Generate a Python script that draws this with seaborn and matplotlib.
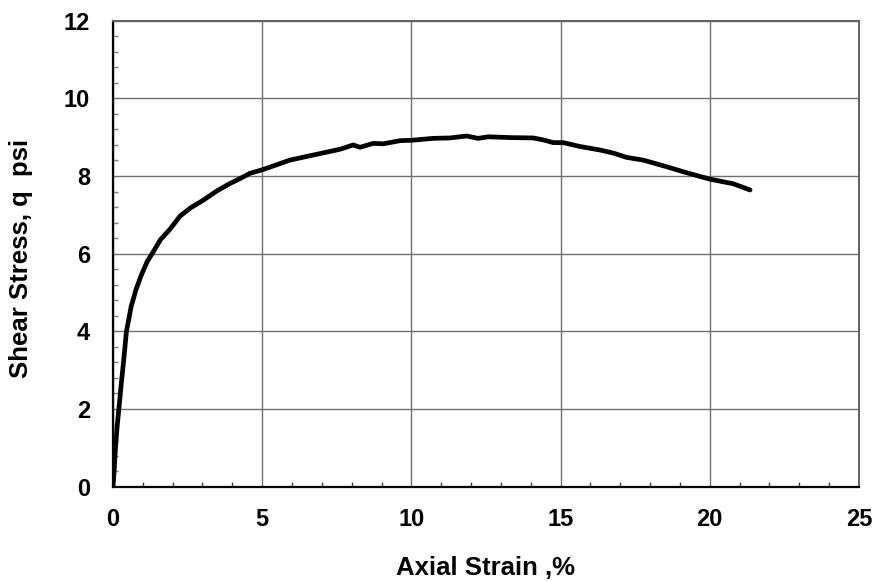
import matplotlib
matplotlib.use("Agg")
import matplotlib.pyplot as plt
from matplotlib.ticker import MultipleLocator
import seaborn as sns
import pandas as pd

# Stress-strain readings from the triaxial test
axial_strain = [0.0, 0.03, 0.08, 0.14, 0.2, 0.28, 0.36, 0.45, 0.61, 0.77, 0.95,
                1.15, 1.35, 1.6, 1.9, 2.25, 2.6, 3.03, 3.45, 3.9, 4.3,
                4.59, 5.0, 5.45, 5.93, 6.71, 7.61, 8.05, 8.28, 8.72, 9.06, 9.62, 10.0,
                10.73, 11.29, 11.85, 12.24, 12.58, 13.3, 14.09, 14.42, 14.76, 15.09,
                15.65, 16.32, 16.77, 17.21, 17.77, 18.55, 19.11, 20.0, 20.79, 21.35]
shear_stress = [0.0, 0.3, 0.95, 1.55, 2.02, 2.66, 3.26, 3.99, 4.64, 5.07, 5.45,
                5.8, 6.05, 6.37, 6.62, 6.97, 7.18, 7.38, 7.6, 7.8, 7.95,
                8.07, 8.16, 8.28, 8.41, 8.54, 8.69, 8.80, 8.74, 8.84, 8.83, 8.91, 8.92,
                8.97, 8.98, 9.03, 8.97, 9.01, 8.99, 8.98, 8.93, 8.86, 8.86,
                8.76, 8.67, 8.59, 8.48, 8.41, 8.24, 8.11, 7.92, 7.80, 7.64]

x_ticks = [0, 5, 10, 15, 20, 25]
y_ticks = [0, 2, 4, 6, 8, 10, 12]

df = pd.DataFrame({"strain": axial_strain, "q": shear_stress})

sns.set_theme(style="white")
plt.rcParams["font.family"] = ["Liberation Sans", "DejaVu Sans"]
plt.rcParams["text.color"] = "black"
plt.rcParams["axes.labelcolor"] = "black"
plt.rcParams["xtick.labelcolor"] = "black"
plt.rcParams["ytick.labelcolor"] = "black"

fig = plt.figure(figsize=(8.75, 5.81), dpi=100)
ax = fig.add_axes([0.1291, 0.1623, 0.8526, 0.8021])

sns.lineplot(data=df, x="strain", y="q", ax=ax, color="black", linewidth=3.4,
             sort=False, estimator=None)
ax.lines[0].set_solid_joinstyle("round")
ax.lines[0].set_solid_capstyle("round")

ax.set_xlim(0, 25)
ax.set_ylim(0, 12)
ax.set_xticks(x_ticks)
ax.set_yticks(y_ticks)
ax.xaxis.set_minor_locator(MultipleLocator(1))
ax.yaxis.set_minor_locator(MultipleLocator(0.4))

ax.grid(True, which="major", color="#707070", linewidth=1.0)
ax.set_axisbelow(True)

ax.tick_params(axis="both", which="major", direction="in", length=0,
               labelsize=17, bottom=True, left=True, labelcolor="black")
ax.tick_params(axis="x", which="major", pad=15)
ax.tick_params(axis="y", which="major", pad=16.5)
ax.tick_params(axis="both", which="minor", direction="in", length=3.6,
               width=1, color="#808080", bottom=True, left=True)
ax.tick_params(axis="x", which="minor", color="#404040")
for lab in ax.get_xticklabels() + ax.get_yticklabels():
    lab.set_fontweight("bold")

for side in ["left", "bottom"]:
    ax.spines[side].set_color("black")
    ax.spines[side].set_linewidth(1.6)
for side in ["top", "right"]:
    ax.spines[side].set_color("#606060")
    ax.spines[side].set_linewidth(1.4)

ax.set_xlabel("Axial Strain ,%", fontsize=18.5, fontweight="bold", color="black")
ax.set_ylabel("Shear Stress, q  psi", fontsize=18.5, fontweight="bold", color="black")
ax.xaxis.label.set_va("center")
ax.yaxis.label.set_va("center")
ax.xaxis.set_label_coords(0.5, -0.174)
ax.yaxis.set_label_coords(-0.1235, 0.49)

fig.savefig("out.png", dpi=100)
